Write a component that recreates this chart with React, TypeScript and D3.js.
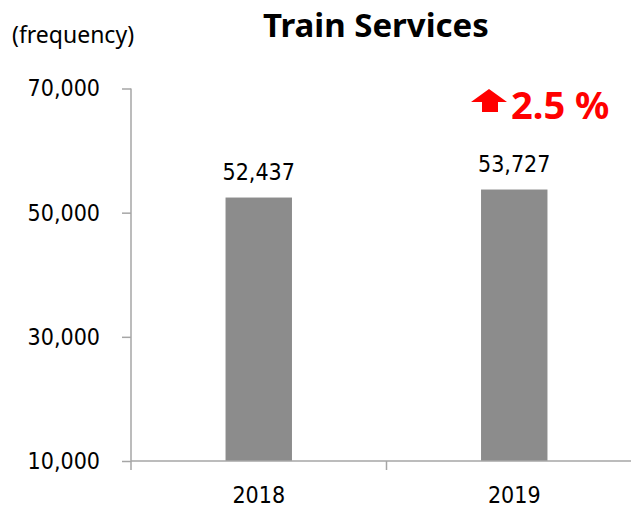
import React, { useEffect, useRef } from 'react';
import * as d3 from 'd3';

const years = ['2018', '2019'];
const services = [52437, 53727];
const yTicks = [10000, 30000, 50000, 70000];
const changeLabel = '2.5 %';

const W = 631;
const H = 511;

export default function App() {
  const ref = useRef<SVGSVGElement>(null);

  useEffect(() => {
    const svg = d3.select(ref.current);
    svg.selectAll('*').remove();

    const x = d3
      .scaleBand()
      .domain(years)
      .range([131, 642])
      .paddingInner(0.74)
      .paddingOuter(0.37);
    const y = d3.scaleLinear().domain([10000, 70000]).range([461, 88.5]);

    const axisColor = '#a6a6a6';
    const numFont = '"DejaVu Sans Condensed", "DejaVu Sans", sans-serif';

    // title + unit
    svg
      .append('text')
      .attr('x', 376)
      .attr('y', 37)
      .attr('text-anchor', 'middle')
      .style('font-family', '"Noto Sans", sans-serif')
      .style('font-weight', 'bold')
      .style('font-size', '33px')
      .text('Train Services');
    svg
      .append('text')
      .attr('x', 12)
      .attr('y', 43)
      .style('font-family', '"Noto Sans", sans-serif')
      .style('font-size', '23px')
      .text('(frequency)');

    // bars
    svg
      .append('g')
      .selectAll('rect')
      .data(services)
      .enter()
      .append('rect')
      .attr('x', (d, i) => x(years[i])!)
      .attr('y', (d) => y(d))
      .attr('width', x.bandwidth())
      .attr('height', (d) => y(10000) - y(d))
      .attr('fill', '#8c8c8c');

    // value labels
    svg
      .append('g')
      .selectAll('text')
      .data(services)
      .enter()
      .append('text')
      .attr('x', (d, i) => x(years[i])! + x.bandwidth() / 2)
      .attr('y', (d) => y(d) - 18)
      .attr('text-anchor', 'middle')
      .style('font-family', numFont)
      .style('font-size', '23px')
      .text((d) => d3.format(',')(d));

    // y axis
    const yAxis = d3
      .axisLeft(y)
      .tickValues(yTicks)
      .tickSize(9)
      .tickPadding(22)
      .tickFormat((d) => d3.format(',')(d as number));
    const gy = svg.append('g').attr('transform', 'translate(131,0)').call(yAxis);
    gy.select('.domain').remove();
    gy.selectAll('.tick line').attr('stroke', axisColor).attr('stroke-width', 1.5);
    gy.selectAll('.tick text')
      .style('font-family', numFont)
      .style('font-size', '23px')
      .attr('fill', '#000');
    gy.append('line')
      .attr('x1', 0)
      .attr('x2', 0)
      .attr('y1', y(70000))
      .attr('y2', y(10000) + 9)
      .attr('stroke', axisColor)
      .attr('stroke-width', 1.5);

    // x axis
    const gx = svg.append('g');
    gx.append('line')
      .attr('x1', 131)
      .attr('x2', 642)
      .attr('y1', y(10000))
      .attr('y2', y(10000))
      .attr('stroke', axisColor)
      .attr('stroke-width', 1.5);
    const bounds = [x.step() + 131, 2 * x.step() + 131];
    gx.selectAll('line.tk')
      .data(bounds)
      .enter()
      .append('line')
      .attr('class', 'tk')
      .attr('x1', (d) => d)
      .attr('x2', (d) => d)
      .attr('y1', y(10000))
      .attr('y2', y(10000) + 9)
      .attr('stroke', axisColor)
      .attr('stroke-width', 1.5);
    gx.selectAll('text')
      .data(years)
      .enter()
      .append('text')
      .attr('x', (d) => x(d)! + x.bandwidth() / 2)
      .attr('y', 503)
      .attr('text-anchor', 'middle')
      .style('font-family', numFont)
      .style('font-size', '23px')
      .text((d) => d);

    // change annotation
    const ann = svg.append('g').attr('transform', 'translate(489,89)');
    ann
      .append('path')
      .attr('d', 'M-18,13 L0,0 L18,13 L9,13 L9,23 L-7,23 L-7,13 Z')
      .attr('fill', '#ff0000');
    ann
      .append('text')
      .attr('x', 22)
      .attr('y', 30)
      .style('font-family', '"Noto Sans", sans-serif')
      .style('font-weight', 'bold')
      .style('font-size', '38px')
      .attr('fill', '#ff0000')
      .text(changeLabel);
  }, []);

  return (
    <svg
      ref={ref}
      width={W}
      height={H}
      style={{ position: 'absolute', left: 0, top: 0, background: '#fff' }}
    />
  );
}
